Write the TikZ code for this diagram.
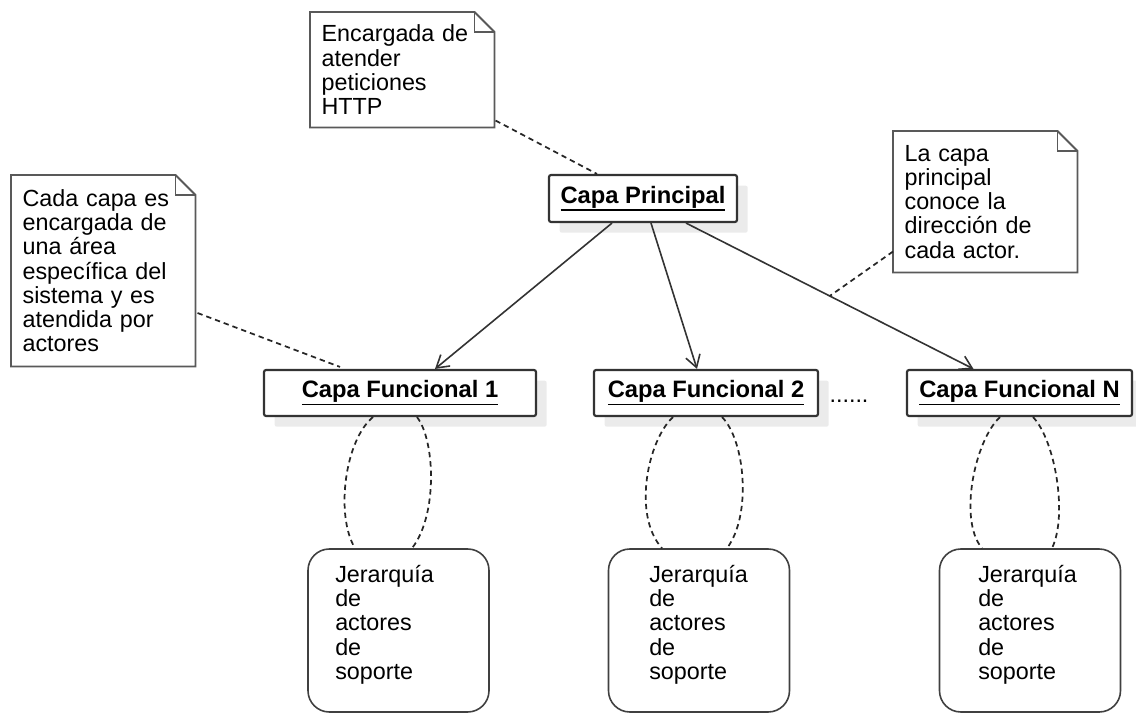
\documentclass[tikz,border=0pt]{standalone}
\usepackage{fontspec}
\setmainfont{Liberation Sans}
\usetikzlibrary{arrows.meta,calc,shadows}
\newcommand\myul[1]{\leavevmode\vtop{\hbox{#1}\kern0.8pt\hrule height 1.2pt}}
\newcommand\drawnote[1]{%
  \draw[noteline] (#1.north west) -- ([xshift=-15pt]#1.north east) -- ([yshift=-15pt]#1.north east) -- (#1.south east) -- (#1.south west) -- cycle;
  \draw[noteline] ([xshift=-15pt]#1.north east) |- ([yshift=-15pt]#1.north east);}
\begin{document}
\begin{tikzpicture}[x=0.75pt,y=-0.75pt,
  font=\fontsize{17.5pt}{18.2pt}\selectfont,
  layer/.style={draw=black!80, line width=1.6pt, rounded corners=1.5pt, fill=white, inner sep=0pt,
    minimum height=34.5pt, font=\fontsize{17.8pt}{18.2pt}\selectfont\bfseries,
    drop shadow={shadow xshift=8pt, shadow yshift=-8pt, fill=black!8, opacity=1, draw=none}},
  rbox/.style={draw=black!75, line width=1.2pt, rounded corners=16pt, minimum width=135.75pt, minimum height=122.25pt, inner sep=0pt},
  txt/.style={anchor=north west, inner sep=0pt, align=left},
  note/.style={anchor=north west, inner xsep=8.5pt, inner ysep=0pt, text width=121pt, align=left, minimum width=138pt},
  noteline/.style={draw=black!65, line width=1.4pt},
  arr/.style={draw=black!80, line width=1.2pt, -{Straight Barb[length=9pt,width=11pt,line width=1.2pt]}},
  dashline/.style={draw=black!85, line width=1.3pt, dash pattern=on 4pt off 3pt},
]
\useasboundingbox (0,0) rectangle (1136,713);

% layers
\node[layer, minimum width=141pt, minimum height=35.25pt] (cp) at (643,198.5) {\myul{Capa Principal}};
\node[layer, minimum width=204pt] (cf1) at (400,393) {\myul{Capa Funcional 1}};
\node[layer, minimum width=168pt] (cf2) at (706,393) {\myul{Capa Funcional 2}};
\node[layer, minimum width=168.75pt] (cfn) at (1019.5,393) {\myul{Capa Funcional N}};
\node[anchor=base] (dots) at (849,402) {......};

% support boxes
\node[rbox] (rb1) at (398.5,630.5) {};
\node[rbox] (rb2) at (699,630.5) {};
\node[rbox] (rb3) at (1030,630.5) {};
\node[txt] (t1) at (335,565) {Jerarquía\\de\\actores\\de\\soporte};
\node[txt] (t2) at (649,565) {Jerarquía\\de\\actores\\de\\soporte};
\node[txt] (t3) at (978,565) {Jerarquía\\de\\actores\\de\\soporte};

% notes
\node[note, minimum height=86.25pt] (n1) at (310,12) {Encargada de\\atender\\peticiones\\HTTP};
\node[note, minimum height=105.75pt] (n2) at (893,131) {La capa\\principal\\conoce la\\dirección de\\cada actor.};
\node[note, minimum height=143.25pt] (n3) at (11,175) {Cada capa es\\encargada de\\una área\\específica del\\sistema y es\\atendida por\\actores};
\drawnote{n1}
\drawnote{n2}
\drawnote{n3}

% arrows
\draw[arr] ($(cp.south)+(-31,0)$) -- ($(cf1.north)+(35,0)$);
\draw[arr] ($(cp.south)+(8,0)$) -- ($(cf2.north)+(-9,0)$);
\draw[arr] ($(cp.south)+(43,0)$) -- coordinate[pos=0.5] (a3m) ($(cfn.north)+(-46,0)$);

% note connectors
\draw[dashline] ($(n1.south east)+(1,-7)$) -- ($(cp.north)+(-46,0)$);
\draw[dashline] ($(n2.south west)+(0,-21)$) -- (a3m);
\draw[dashline] ($(n3.north east)+(2,138)$) -- ($(cf1.north)+(-60,-2)$);

% loops
\draw[dashline] ($(cf1.south)+(-27,0)$) .. controls (345,440) and (335,515) .. ($(rb1.north)+(-43.5,0)$);
\draw[dashline] ($(cf1.south)+(17,0)$) .. controls (435,440) and (438,515) .. ($(rb1.north)+(13.5,0)$);
\draw[dashline] ($(cf2.south)+(-33,0)$) .. controls (648,440) and (632,515) .. ($(rb2.north)+(-37,0)$);
\draw[dashline] ($(cf2.south)+(16,0)$) .. controls (745,440) and (752,515) .. ($(rb2.north)+(28,0)$);
\draw[dashline] ($(cfn.south)+(-19.5,0)$) .. controls (975,440) and (958,520) .. ($(rb3.north)+(-48,0)$);
\draw[dashline] ($(cfn.south)+(13.5,0)$) .. controls (1055,440) and (1068,515) .. ($(rb3.north)+(22,0)$);
\end{tikzpicture}
\end{document}
